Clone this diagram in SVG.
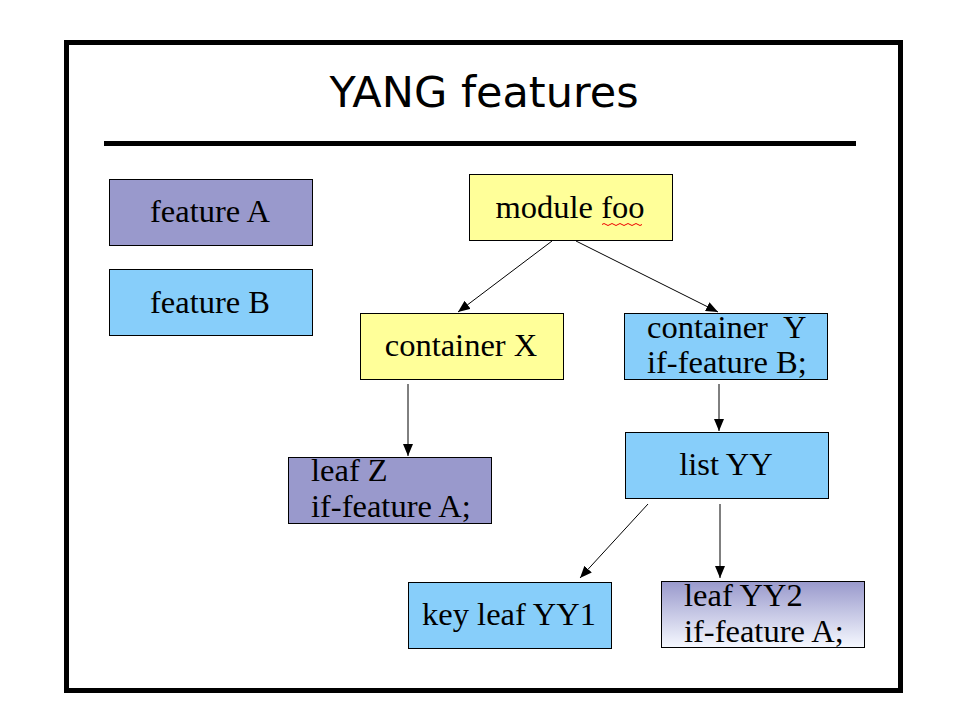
<svg xmlns="http://www.w3.org/2000/svg" width="960" height="720" viewBox="0 0 960 720">
<style>
.box{stroke:#000;stroke-width:1}
.pur{fill:#9999cc}
.blu{fill:#87cefa}
.yel{fill:#ffff99}
.t{font-family:"Liberation Serif","Times New Roman",serif;font-size:32.5px;fill:#000}
.c{text-anchor:middle}
.edge{stroke:#000;stroke-width:1;fill:none;marker-end:url(#ah)}
</style>
<defs>
<marker id="ah" viewBox="0 0 12 10" refX="12" refY="5" markerWidth="12" markerHeight="10" markerUnits="userSpaceOnUse" orient="auto">
<path d="M0,0 L12,5 L0,10 Z" fill="#000"/>
</marker>
<linearGradient id="g" x1="0" y1="0" x2="0" y2="1">
<stop offset="0" stop-color="#9999cc"/>
<stop offset="1" stop-color="#f6f9ff"/>
</linearGradient>
</defs>
<rect width="960" height="720" fill="#fff"/>
<rect x="66.5" y="42.5" width="834" height="648" fill="none" stroke="#000" stroke-width="5"/>
<text x="484" y="107" text-anchor="middle" font-family="DejaVu Sans, sans-serif" font-size="43">YANG features</text>
<rect x="104" y="141" width="752" height="5" fill="#000"/>
<g id="featureA"><rect class="box pur" x="109.5" y="179.5" width="203" height="66"/><text class="t c" x="210" y="222">feature A</text></g>
<g id="featureB"><rect class="box blu" x="109.5" y="269.5" width="203" height="66"/><text class="t c" x="210" y="313">feature B</text></g>
<g id="moduleFoo"><rect class="box yel" x="469.5" y="174.5" width="203" height="66"/><text class="t c" x="570" y="218">module foo</text>
<path d="M602,224.5 q2,-2 4,0 t4,0 t4,0 t4,0 t4,0 t4,0 t4,0 t4,0 t4,0 t4,0" fill="none" stroke="#e00" stroke-width="1"/></g>
<g id="containerX"><rect class="box yel" x="360.5" y="313.5" width="203" height="66"/><text class="t c" x="461" y="356">container X</text></g>
<g id="containerY"><rect class="box blu" x="624.5" y="313.5" width="203" height="66"/><text class="t" x="647" y="338" xml:space="preserve">container  Y</text><text class="t" x="647" y="373">if-feature B;</text></g>
<g id="leafZ"><rect class="box pur" x="288.5" y="457.5" width="203" height="66"/><text class="t" x="311" y="481">leaf Z</text><text class="t" x="311" y="517">if-feature A;</text></g>
<g id="listYY"><rect class="box blu" x="625.5" y="432.5" width="203" height="66"/><text class="t c" x="726" y="475">list YY</text></g>
<g id="keyLeafYY1"><rect class="box blu" x="408.5" y="582.5" width="203" height="66"/><text class="t c" x="509" y="625">key leaf YY1</text></g>
<g id="leafYY2"><rect class="box" fill="url(#g)" x="661.5" y="581.5" width="203" height="66"/><text class="t" x="684" y="606">leaf YY2</text><text class="t" x="684" y="642">if-feature A;</text></g>
<g id="connectors">
<line class="edge" x1="552" y1="241" x2="458" y2="312"/>
<line class="edge" x1="576" y1="241" x2="718" y2="312"/>
<line class="edge" x1="408" y1="384" x2="408" y2="456"/>
<line class="edge" x1="719" y1="384" x2="719" y2="431"/>
<line class="edge" x1="648" y1="504" x2="580" y2="578"/>
<line class="edge" x1="720" y1="504" x2="720" y2="578"/>
</g>
</svg>
